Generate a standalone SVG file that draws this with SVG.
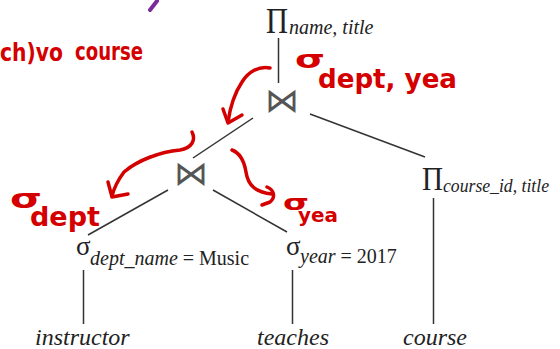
<svg xmlns="http://www.w3.org/2000/svg" width="560" height="349" viewBox="0 0 560 349">
<style>
.ser{font-family:"Liberation Serif","Times New Roman",serif;fill:#222}
.it{font-style:italic}
.op{font-family:"DejaVu Sans",sans-serif;font-weight:200;fill:#555}
.ln{stroke:#333;stroke-width:1.5;fill:none}
.ink{font-family:"DejaVu Sans",sans-serif;font-weight:bold;fill:#d40000}
.red{stroke:#d40000;stroke-width:3.5;fill:none;stroke-linecap:round;stroke-linejoin:round}
</style>
<rect width="560" height="349" fill="#fff"/>
<g id="connectors">
<line class="ln" x1="278.5" y1="38" x2="278.5" y2="83"/>
<line class="ln" x1="253" y1="118" x2="193" y2="158"/>
<line class="ln" x1="310" y1="114" x2="425" y2="157"/>
<line class="ln" x1="168" y1="190" x2="88" y2="235"/>
<line class="ln" x1="213" y1="190" x2="287" y2="232"/>
<line class="ln" x1="83.5" y1="270" x2="83.5" y2="324"/>
<line class="ln" x1="292.5" y1="270" x2="292.5" y2="324"/>
<line class="ln" x1="433.5" y1="198" x2="433.5" y2="324"/>
</g>
<g id="proj-top">
<text class="ser" x="266" y="33" font-size="36" textLength="22" lengthAdjust="spacingAndGlyphs">Π</text>
<text class="ser it" x="289" y="34" font-size="20">name, title</text>
</g>
<g id="join-top">
<text class="op" x="265" y="112" font-size="34">⋈</text>
</g>
<g id="join-low">
<text class="op" x="174" y="185" font-size="34">⋈</text>
</g>
<g id="proj-course">
<text class="ser" x="422" y="190" font-size="34" textLength="21" lengthAdjust="spacingAndGlyphs">Π</text>
<text class="ser it" x="443" y="192" font-size="19" textLength="106" lengthAdjust="spacingAndGlyphs">course_id, title</text>
</g>
<g id="sel-dept">
<text class="ser" x="76" y="255" font-size="27">σ</text>
<text class="ser" x="90" y="265" font-size="20"><tspan class="it">dept_name</tspan> = Music</text>
</g>
<g id="sel-year">
<text class="ser" x="286" y="255" font-size="27">σ</text>
<text class="ser" x="300" y="263" font-size="20"><tspan class="it">year</tspan> = 2017</text>
</g>
<g id="instructor"><text class="ser it" x="35" y="345" font-size="24">instructor</text></g>
<g id="teaches"><text class="ser it" x="257" y="345" font-size="24">teaches</text></g>
<g id="course"><text class="ser it" x="403" y="345" font-size="24">course</text></g>
<g id="annotations">
<path d="M157 1 L150 10" stroke="#7a2a9a" stroke-width="4" stroke-linecap="round" fill="none"/>
<text class="ink" x="0" y="61" font-size="24" textLength="63" lengthAdjust="spacingAndGlyphs">ch)vo</text>
<text class="ink" x="75" y="60" font-size="24" textLength="68" lengthAdjust="spacingAndGlyphs">course</text>
<path class="red" d="M270 68 C258 66 248 72 242 82 C234 94 230 108 228 122"/>
<path class="red" d="M223 109 L228 123 L242 115"/>
<text class="ink" x="295" y="68" font-size="24"><tspan textLength="30" lengthAdjust="spacingAndGlyphs">σ</tspan><tspan x="318" dy="20" font-size="26" textLength="139" lengthAdjust="spacingAndGlyphs">dept, yea</tspan></text>
<path class="red" d="M192 132 C196 140 192 148 180 150 C160 152 138 160 124 172 C118 180 114 188 112 196"/>
<path class="red" d="M108 182 L112 197 L128 194"/>
<text class="ink" x="10" y="208" font-size="26"><tspan textLength="32" lengthAdjust="spacingAndGlyphs">σ</tspan><tspan x="30" dy="18" textLength="70" lengthAdjust="spacingAndGlyphs">dept</tspan></text>
<path class="red" d="M232 150 C240 153 244 160 246 172 C248 186 256 192 272 194"/>
<path class="red" d="M267 187 C274 190 276 197 270 202 L262 205"/>
<text class="ink" x="283" y="210" font-size="22"><tspan textLength="26" lengthAdjust="spacingAndGlyphs">σ</tspan><tspan x="298" dy="12" font-size="20" textLength="40" lengthAdjust="spacingAndGlyphs">yea</tspan></text>
</g>
</svg>
